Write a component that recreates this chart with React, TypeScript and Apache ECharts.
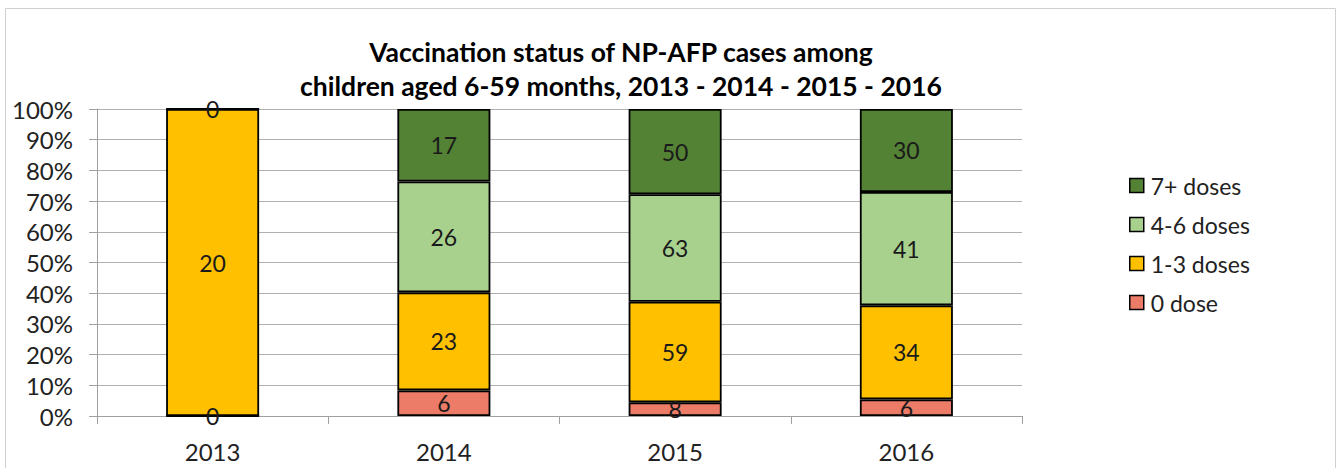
import React, { useEffect, useRef } from "react";
import * as echarts from "echarts";

const years = ["2013", "2014", "2015", "2016"];
const dose0 = [0, 6, 8, 6];
const dose13 = [20, 23, 59, 34];
const dose46: (number | null)[] = [null, 26, 63, 41];
const dose7 = [0, 17, 50, 30];
const yTicks = ["0%", "10%", "20%", "30%", "40%", "50%", "60%", "70%", "80%", "90%", "100%"];

const FONT = "Lato, 'Open Sans', sans-serif";

export default function App() {
  const ref = useRef<HTMLDivElement>(null);
  useEffect(() => {
    document.body.style.margin = "0";
    const chart = echarts.init(ref.current!, null, { renderer: "svg" });
    const totals = years.map((_, i) => (dose0[i] || 0) + (dose13[i] || 0) + (dose46[i] || 0) + (dose7[i] || 0));
    const pct = (arr: (number | null)[]) =>
      arr.map((v, i) => (v === null ? null : { value: (v / totals[i]) * 100, raw: v }));
    const mk = (name: string, arr: (number | null)[], color: string) => ({
      name,
      type: "bar",
      stack: "a",
      barWidth: 93,
      data: pct(arr),
      itemStyle: { color, borderColor: "#000", borderWidth: 1.8 },
      label: {
        show: true,
        position: "inside",
        fontSize: 23,
        fontFamily: FONT,
        color: "#1a1a1a",
        formatter: (p: any) => String(p.data.raw),
      },
    });
    chart.setOption({
      animation: false,
      title: {
        text: "Vaccination status of NP-AFP cases among\nchildren aged 6-59 months, 2013 - 2014 - 2015 - 2016",
        left: 616,
        top: 30,
        textAlign: "center",
        textStyle: { fontSize: 26.5, fontWeight: "bold", fontFamily: FONT, color: "#000", lineHeight: 34 },
      },
      graphic: [
        {
          type: "rect",
          shape: { x: 5.5, y: 8.5, width: 1330, height: 470 },
          style: { fill: "none", stroke: "#d0d0d0", lineWidth: 1 },
          silent: true,
        },
      ],
      legend: {
        orient: "vertical",
        left: 1124,
        top: 169,
        itemWidth: 14,
        itemHeight: 14,
        itemGap: 16,
        icon: "rect",
        data: ["7+ doses", "4-6 doses", "1-3 doses", "0 dose"],
        itemStyle: { borderColor: "#000", borderWidth: 1.5 },
        textStyle: { fontSize: 23, fontFamily: FONT, color: "#222", padding: [0, 0, 0, 2] },
      },
      grid: { left: 97, right: 319, top: 109, bottom: 52 },
      xAxis: {
        type: "category",
        data: years,
        axisLine: { lineStyle: { color: "#a0a0a0", width: 1 } },
        axisTick: { show: true, length: 8, lineStyle: { color: "#a0a0a0" } },
        axisLabel: { fontSize: 24, fontFamily: FONT, color: "#222", margin: 23 },
      },
      yAxis: {
        type: "value",
        min: 0,
        max: 100,
        interval: 10,
        axisLine: { show: true, lineStyle: { color: "#a0a0a0" } },
        axisTick: { show: true, length: 8, lineStyle: { color: "#a0a0a0" } },
        splitLine: { lineStyle: { color: "#b0b0b0", width: 1 } },
        axisLabel: {
          fontSize: 24,
          fontFamily: FONT,
          color: "#222",
          margin: 24,
          formatter: (v: number) => yTicks[Math.round(v / 10)],
        },
      },
      series: [
        mk("0 dose", dose0, "#EC7B67"),
        mk("1-3 doses", dose13, "#FFC000"),
        mk("4-6 doses", dose46, "#A9D18E"),
        mk("7+ doses", dose7, "#548235"),
      ],
    });
    return () => chart.dispose();
  }, []);
  return <div ref={ref} style={{ width: 1341, height: 468 }} />;
}
